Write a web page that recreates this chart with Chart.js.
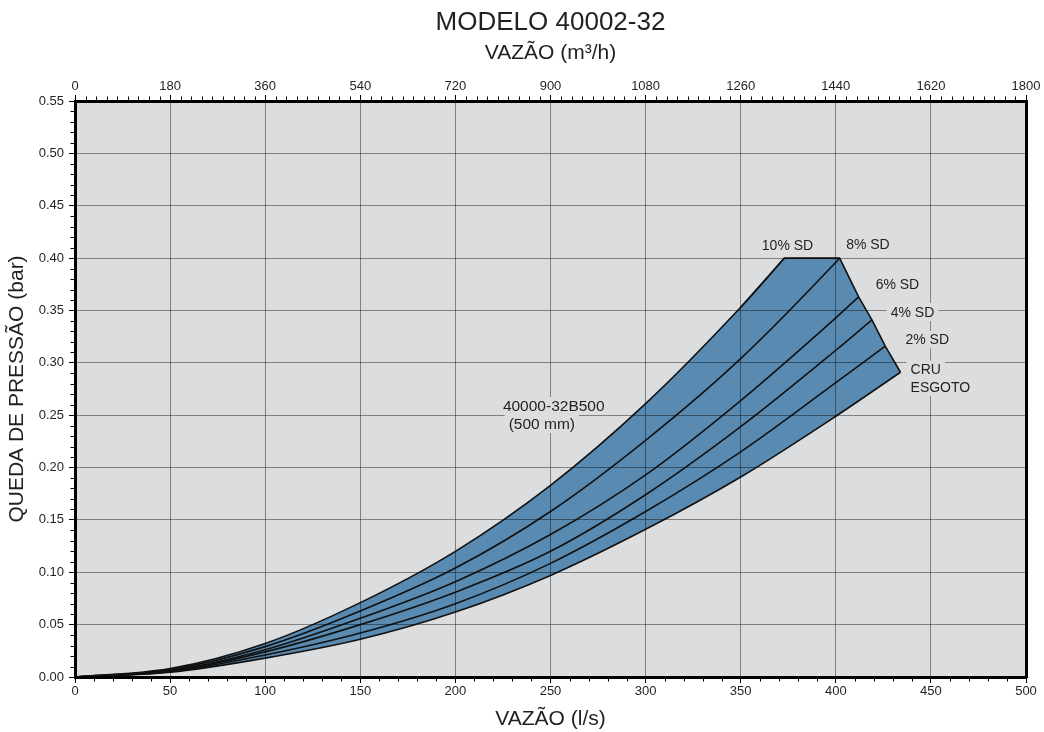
<!DOCTYPE html>
<html>
<head>
<meta charset="utf-8">
<script src="https://cdn.jsdelivr.net/npm/chart.js@4.4.1/dist/chart.umd.min.js"></script>
<style>
    html, body { margin: 0; padding: 0; background: #fff; }
    .chart-box { width: 1044px; height: 732px; position: relative; }
</style>
</head>
<body>
<div class="chart-box"><canvas id="pressureChart"></canvas></div>
<script>
// curves: flow (l/s) -> pressure drop (bar)
const sd10Flow = [0, 50, 100, 150, 200, 250, 300, 350, 373];
const sd10Drop = [0, 0.008, 0.032, 0.071, 0.120, 0.183, 0.261, 0.353, 0.400];

const sd8Flow = [0, 50, 100, 150, 200, 250, 300, 350, 400, 402];
const sd8Drop = [0, 0.007, 0.029, 0.063, 0.104, 0.158, 0.226, 0.304, 0.396, 0.400];

const sd6Flow = [0, 50, 100, 150, 200, 250, 300, 350, 400, 412];
const sd6Drop = [0, 0.006, 0.026, 0.056, 0.091, 0.136, 0.193, 0.264, 0.343, 0.363];

const sd4Flow = [0, 50, 100, 150, 200, 250, 300, 350, 400, 419];
const sd4Drop = [0, 0.0055, 0.024, 0.050, 0.081, 0.120, 0.174, 0.239, 0.312, 0.341];

const sd2Flow = [0, 50, 100, 150, 200, 250, 300, 350, 400, 426];
const sd2Drop = [0, 0.005, 0.021, 0.042, 0.070, 0.1085, 0.158, 0.215, 0.281, 0.316];

const cruFlow = [0, 50, 100, 150, 200, 250, 300, 350, 400, 434];
const cruDrop = [0, 0.0045, 0.018, 0.036, 0.062, 0.097, 0.141, 0.191, 0.249, 0.291];

// upper end of the band (last 10% point -> 8% end -> down to CRU end)
const capFlow = [350, 373, 402, 412, 419, 426, 434];
const capDrop = [0.353, 0.400, 0.400, 0.363, 0.341, 0.316, 0.291];

const curveLabels = ['10% SD', '8% SD', '6% SD', '4% SD', '2% SD', 'CRU ESGOTO'];

// text on the plot, in data units
const noteText = ['10% SD', '8% SD', '6% SD', '4% SD', '2% SD', 'CRU', 'ESGOTO', '40000-32B500', '(500 mm)'];
const noteFlow = [374.6, 416.9, 432.4, 440.3, 448.1, 439.3, 439.3, 251.7, 228.0];
const noteDrop = [0.4126, 0.4136, 0.3754, 0.3486, 0.3222, 0.2935, 0.2770, 0.2588, 0.2416];
const noteAlign = ['center', 'center', 'center', 'center', 'center', 'left', 'left', 'center', 'left'];

const xTicksLs = [0, 500, 50];
const xTicksM3h = [0, 1800, 180];
const yTicksBar = [0, 0.55, 0.05];

const PLOT_BG = 'rgb(220,221,223)';
const BAND = 'rgb(89,139,178)';
const GRID = 'rgba(0,0,0,0.42)';
const INK = '#231f20';
const FONT = '"Liberation Sans", Arial, sans-serif';

const toPoints = (xs, ys) => xs.map((x, i) => ({x, y: ys[i]}));

const curveSet = (label, xs, ys, extra = {}) => Object.assign({
    label,
    data: toPoints(xs, ys),
    borderColor: '#111',
    borderWidth: 1.6,
    pointRadius: 0,
    fill: false,
    cubicInterpolationMode: 'monotone'
}, extra);

const plotBackground = {
    id: 'plotBackground',
    beforeDraw(chart) {
        const {ctx, chartArea: a} = chart;
        ctx.save();
        ctx.fillStyle = PLOT_BG;
        ctx.fillRect(a.left, a.top, a.right - a.left, a.bottom - a.top);
        ctx.restore();
    }
};

const minorTicks = {
    id: 'minorTicks',
    afterDraw(chart) {
        const {ctx, chartArea: a, scales} = chart;
        const len = 4.5;

        ctx.save();
        ctx.strokeStyle = '#000';
        ctx.lineWidth = 1;
        ctx.beginPath();
        for (let v = 10; v < 500; v += 10) {
            if (v % 50 === 0) continue;
            const px = Math.round(scales.x.getPixelForValue(v)) + 0.5;
            ctx.moveTo(px, a.bottom);
            ctx.lineTo(px, a.bottom + len);
        }
        for (let v = 20; v < 1800; v += 20) {
            if (v % 180 === 0) continue;
            const px = Math.round(scales.x2.getPixelForValue(v)) + 0.5;
            ctx.moveTo(px, a.top);
            ctx.lineTo(px, a.top - len);
        }
        for (let i = 1; i < 55; i++) {
            if (i % 5 === 0) continue;
            const py = Math.round(scales.y.getPixelForValue(i / 100)) + 0.5;
            ctx.moveTo(a.left, py);
            ctx.lineTo(a.left - len, py);
        }
        ctx.stroke();
        ctx.restore();
    }
};

const plotNotes = {
    id: 'plotNotes',
    afterDraw(chart) {
        const {ctx, scales} = chart;

        ctx.save();
        ctx.textBaseline = 'middle';
        ctx.textAlign = 'left';
        noteText.forEach((text, i) => {
            const size = i >= 7 ? 15.5 : 14;
            ctx.font = size + 'px ' + FONT;
            const px = scales.x.getPixelForValue(noteFlow[i]);
            const py = scales.y.getPixelForValue(noteDrop[i]);
            const w = ctx.measureText(text).width;
            const left = noteAlign[i] === 'left' ? px : px - w / 2;

            ctx.fillStyle = PLOT_BG;
            ctx.fillRect(left - 4, py - 9, w + 8, 18);
            ctx.fillStyle = INK;
            ctx.fillText(text, left, py + 1);
        });
        ctx.restore();
    }
};

const ctx = document.getElementById('pressureChart');

new Chart(ctx, {
    type: 'line',
    data: {
        datasets: [
            curveSet(curveLabels[0], sd10Flow, sd10Drop, {fill: 5, backgroundColor: BAND}),
            curveSet(curveLabels[1], sd8Flow, sd8Drop),
            curveSet(curveLabels[2], sd6Flow, sd6Drop),
            curveSet(curveLabels[3], sd4Flow, sd4Drop),
            curveSet(curveLabels[4], sd2Flow, sd2Drop),
            curveSet(curveLabels[5], cruFlow, cruDrop),
            curveSet('limite', capFlow, capDrop, {
                fill: 5,
                backgroundColor: BAND,
                cubicInterpolationMode: 'default',
                tension: 0
            })
        ]
    },
    options: {
        responsive: true,
        maintainAspectRatio: false,
        animation: false,
        layout: {padding: 0},
        plugins: {
            legend: {display: false},
            tooltip: {enabled: false},
            filler: {drawTime: 'beforeDatasetsDraw'},
            title: {
                display: true,
                fullSize: false,
                text: 'MODELO 40002-32',
                color: INK,
                font: {family: FONT, size: 26, weight: 'normal'},
                padding: {top: 7, bottom: 0}
            }
        },
        scales: {
            x: {
                type: 'linear',
                position: 'bottom',
                min: xTicksLs[0],
                max: xTicksLs[1],
                afterFit: scale => { scale.height = 55; },
                ticks: {
                    stepSize: xTicksLs[2],
                    color: INK,
                    padding: 1,
                    maxRotation: 0,
                    font: {family: FONT, size: 13},
                    callback: value => String(value)
                },
                grid: {color: GRID, tickColor: '#000', tickLength: 6, z: 1},
                border: {color: '#000', width: 3, z: 2},
                title: {
                    display: true,
                    text: 'VAZÃO (l/s)',
                    color: INK,
                    padding: {top: 0, bottom: 0},
                    font: {family: FONT, size: 21}
                }
            },
            x2: {
                type: 'linear',
                position: 'top',
                min: xTicksM3h[0],
                max: xTicksM3h[1],
                afterFit: scale => { scale.height = 62.8; },
                ticks: {
                    stepSize: xTicksM3h[2],
                    color: INK,
                    padding: 1,
                    maxRotation: 0,
                    font: {family: FONT, size: 13},
                    callback: value => String(value)
                },
                grid: {drawOnChartArea: false, tickColor: '#000', tickLength: 6, z: 1},
                border: {color: '#000', width: 3, z: 2},
                title: {
                    display: true,
                    text: 'VAZÃO (m³/h)',
                    color: INK,
                    padding: {top: 2, bottom: 0},
                    font: {family: FONT, size: 21}
                }
            },
            y: {
                type: 'linear',
                position: 'left',
                min: yTicksBar[0],
                max: yTicksBar[1],
                afterFit: scale => { scale.width = 75; },
                ticks: {
                    stepSize: yTicksBar[2],
                    color: INK,
                    padding: 5,
                    font: {family: FONT, size: 13},
                    callback: value => value.toFixed(2)
                },
                grid: {color: GRID, tickColor: '#000', tickLength: 6, z: 1},
                border: {color: '#000', width: 3, z: 2},
                title: {
                    display: true,
                    text: 'QUEDA DE PRESSÃO (bar)',
                    color: INK,
                    padding: {top: 5, bottom: 0},
                    font: {family: FONT, size: 21}
                }
            },
            y2: {
                type: 'linear',
                position: 'right',
                display: true,
                min: yTicksBar[0],
                max: yTicksBar[1],
                afterFit: scale => { scale.width = 18; },
                ticks: {display: false},
                grid: {drawOnChartArea: false, drawTicks: false},
                border: {color: '#000', width: 3, z: 2}
            }
        }
    },
    plugins: [plotBackground, minorTicks, plotNotes]
});
</script>
</body>
</html>
